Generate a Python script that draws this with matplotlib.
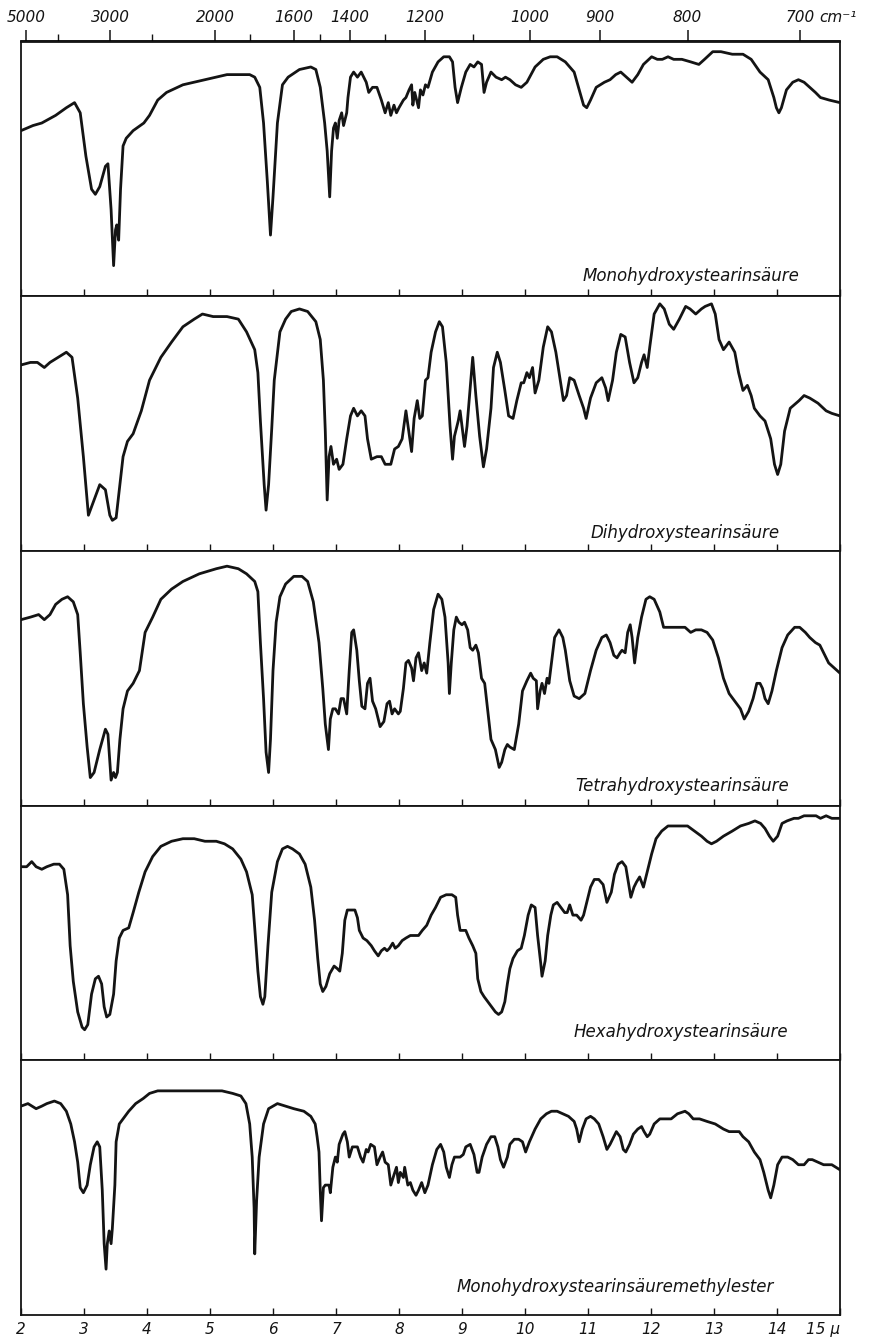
import matplotlib
matplotlib.use("Agg")
import matplotlib.pyplot as plt
import numpy as np

# spectra: (wavelength in micron, transmission in % of panel height)
mono = [(2.00, 65), (2.19, 67), (2.33, 68), (2.55, 71), (2.72, 74), (2.85, 76), (2.94, 72),
        (3.03, 55), (3.12, 42), (3.18, 40), (3.25, 43), (3.34, 51), (3.38, 52), (3.43, 34),
        (3.47, 12), (3.50, 26), (3.52, 28), (3.55, 22), (3.58, 42), (3.62, 59), (3.67, 62),
        (3.78, 65), (3.95, 68), (4.04, 71), (4.17, 77), (4.31, 80), (4.57, 83), (4.92, 85),
        (5.27, 87), (5.63, 87), (5.71, 86), (5.79, 82), (5.85, 68), (5.91, 45), (5.96, 24),
        (6.00, 39), (6.07, 68), (6.15, 83), (6.24, 86), (6.42, 89), (6.60, 90), (6.68, 89),
        (6.75, 82), (6.82, 68), (6.86, 57), (6.90, 39), (6.93, 57), (6.96, 66), (6.99, 68),
        (7.02, 62), (7.05, 69), (7.09, 72), (7.12, 67), (7.17, 72), (7.19, 78), (7.23, 86),
        (7.28, 88), (7.34, 86), (7.40, 88), (7.48, 84), (7.52, 80), (7.58, 82), (7.65, 82),
        (7.72, 77), (7.78, 72), (7.83, 76), (7.87, 71), (7.92, 75), (7.96, 72), (8.00, 74),
        (8.07, 77), (8.11, 78), (8.16, 81), (8.20, 83), (8.22, 75), (8.25, 80), (8.29, 76),
        (8.31, 74), (8.34, 81), (8.38, 79), (8.42, 83), (8.46, 82), (8.53, 88), (8.62, 92),
        (8.71, 94), (8.80, 94), (8.85, 92), (8.89, 82), (8.93, 76), (8.99, 82), (9.06, 88),
        (9.13, 91), (9.19, 90), (9.25, 92), (9.31, 91), (9.35, 80), (9.39, 84), (9.46, 88),
        (9.54, 86), (9.63, 85), (9.69, 86), (9.76, 85), (9.85, 83), (9.94, 82), (10.03, 84),
        (10.16, 90), (10.29, 93), (10.40, 94), (10.51, 94), (10.64, 92), (10.78, 88),
        (10.86, 81), (10.93, 75), (10.98, 74), (11.04, 77), (11.13, 82), (11.26, 84),
        (11.35, 85), (11.44, 87), (11.52, 88), (11.61, 86), (11.70, 84), (11.79, 87),
        (11.88, 91), (12.01, 94), (12.10, 93), (12.18, 93), (12.27, 94), (12.36, 93),
        (12.49, 93), (12.63, 92), (12.76, 91), (12.85, 93), (12.98, 96), (13.11, 96),
        (13.29, 95), (13.46, 95), (13.59, 93), (13.73, 88), (13.86, 85), (13.95, 78),
        (13.99, 74), (14.03, 72), (14.07, 74), (14.15, 81), (14.25, 84), (14.34, 85),
        (14.43, 84), (14.52, 82), (14.61, 80), (14.69, 78), (14.83, 77), (15.00, 76)]

dihydroxy = [(2.00, 73), (2.15, 74), (2.26, 74), (2.37, 72), (2.46, 74), (2.59, 76), (2.72, 78),
             (2.81, 76), (2.90, 60), (2.99, 37), (3.07, 14), (3.16, 20), (3.25, 26), (3.34, 24),
             (3.41, 14), (3.45, 12), (3.51, 13), (3.56, 24), (3.62, 37), (3.69, 43), (3.78, 46),
             (3.91, 55), (4.04, 67), (4.22, 76), (4.39, 82), (4.57, 88), (4.75, 91), (4.88, 93),
             (5.05, 92), (5.27, 92), (5.45, 91), (5.58, 86), (5.71, 79), (5.76, 70), (5.80, 51),
             (5.86, 26), (5.89, 16), (5.93, 26), (5.98, 48), (6.02, 67), (6.11, 86), (6.20, 91),
             (6.29, 94), (6.42, 95), (6.55, 94), (6.68, 90), (6.75, 83), (6.80, 67), (6.83, 47),
             (6.86, 20), (6.89, 37), (6.92, 41), (6.96, 34), (7.01, 36), (7.05, 32), (7.11, 34),
             (7.17, 44), (7.23, 53), (7.28, 56), (7.34, 53), (7.40, 55), (7.46, 53), (7.50, 44),
             (7.56, 36), (7.65, 37), (7.72, 37), (7.78, 34), (7.87, 34), (7.93, 40), (7.99, 41),
             (8.05, 44), (8.11, 55), (8.15, 48), (8.20, 39), (8.24, 52), (8.29, 59), (8.33, 52),
             (8.37, 53), (8.42, 67), (8.46, 68), (8.51, 78), (8.58, 86), (8.64, 90), (8.69, 88),
             (8.75, 74), (8.81, 49), (8.85, 36), (8.88, 45), (8.94, 51), (8.97, 55), (9.02, 45),
             (9.04, 41), (9.08, 49), (9.13, 64), (9.17, 76), (9.22, 61), (9.28, 45), (9.34, 33),
             (9.39, 40), (9.46, 56), (9.50, 72), (9.56, 78), (9.61, 74), (9.68, 63), (9.74, 53),
             (9.81, 52), (9.87, 59), (9.94, 66), (9.98, 66), (10.03, 70), (10.07, 68),
             (10.12, 72), (10.16, 62), (10.22, 67), (10.29, 80), (10.36, 88), (10.42, 86),
             (10.49, 78), (10.56, 67), (10.61, 59), (10.66, 61), (10.71, 68), (10.78, 67),
             (10.86, 61), (10.93, 56), (10.97, 52), (11.04, 60), (11.13, 66), (11.22, 68),
             (11.28, 64), (11.32, 59), (11.39, 67), (11.45, 78), (11.52, 85), (11.59, 84),
             (11.66, 74), (11.73, 66), (11.79, 68), (11.85, 74), (11.89, 77), (11.94, 72),
             (11.98, 80), (12.05, 93), (12.14, 97), (12.21, 95), (12.29, 89), (12.36, 87),
             (12.45, 91), (12.55, 96), (12.62, 95), (12.71, 93), (12.80, 95), (12.86, 96),
             (12.96, 97), (13.02, 93), (13.08, 83), (13.15, 79), (13.24, 82), (13.33, 78),
             (13.39, 70), (13.46, 63), (13.53, 65), (13.59, 61), (13.64, 56), (13.73, 53),
             (13.81, 51), (13.90, 44), (13.96, 34), (14.01, 30), (14.06, 34), (14.12, 47),
             (14.21, 56), (14.35, 59), (14.43, 61), (14.52, 60), (14.65, 58), (14.78, 55),
             (14.87, 54), (15.00, 53)]

tetrahydroxy = [(2.00, 73), (2.15, 74), (2.28, 75), (2.37, 73), (2.46, 75), (2.55, 79), (2.65, 81),
                (2.74, 82), (2.83, 80), (2.90, 75), (2.94, 60), (2.99, 40), (3.05, 23), (3.10, 11),
                (3.16, 13), (3.25, 22), (3.34, 30), (3.38, 28), (3.43, 10), (3.47, 13), (3.50, 11),
                (3.53, 13), (3.57, 26), (3.62, 38), (3.69, 45), (3.78, 48), (3.88, 53), (3.97, 68),
                (4.09, 74), (4.22, 81), (4.39, 85), (4.57, 88), (4.83, 91), (5.10, 93), (5.27, 94),
                (5.45, 93), (5.58, 91), (5.71, 88), (5.76, 84), (5.80, 64), (5.85, 42), (5.89, 21),
                (5.93, 13), (5.96, 26), (6.00, 53), (6.05, 72), (6.11, 82), (6.20, 87), (6.33, 90),
                (6.46, 90), (6.55, 88), (6.64, 80), (6.73, 64), (6.79, 46), (6.83, 32), (6.88, 22),
                (6.91, 34), (6.95, 38), (6.99, 38), (7.04, 36), (7.08, 42), (7.12, 42), (7.17, 36),
                (7.21, 53), (7.25, 68), (7.28, 69), (7.33, 61), (7.37, 49), (7.41, 39), (7.46, 38),
                (7.50, 48), (7.54, 50), (7.58, 41), (7.63, 38), (7.70, 31), (7.76, 33), (7.81, 40),
                (7.85, 41), (7.89, 36), (7.93, 38), (7.99, 36), (8.02, 37), (8.07, 46), (8.11, 56),
                (8.15, 57), (8.20, 54), (8.23, 49), (8.27, 58), (8.31, 60), (8.36, 53), (8.40, 56),
                (8.44, 52), (8.49, 64), (8.55, 77), (8.62, 83), (8.68, 81), (8.73, 74), (8.78, 56),
                (8.80, 44), (8.83, 56), (8.87, 69), (8.91, 74), (8.95, 72), (9.00, 71), (9.04, 72),
                (9.09, 69), (9.13, 62), (9.17, 61), (9.22, 63), (9.26, 60), (9.31, 50), (9.36, 48),
                (9.41, 37), (9.46, 26), (9.53, 22), (9.59, 15), (9.63, 17), (9.68, 22), (9.72, 24),
                (9.76, 23), (9.83, 22), (9.90, 32), (9.96, 45), (10.03, 49), (10.09, 52),
                (10.13, 50), (10.18, 49), (10.20, 38), (10.24, 45), (10.27, 48), (10.31, 44),
                (10.35, 50), (10.38, 48), (10.42, 56), (10.47, 66), (10.54, 69), (10.60, 66),
                (10.64, 61), (10.71, 49), (10.78, 43), (10.86, 42), (10.95, 44), (11.04, 53),
                (11.13, 61), (11.22, 66), (11.29, 67), (11.35, 64), (11.41, 59), (11.46, 58),
                (11.51, 60), (11.54, 61), (11.59, 60), (11.63, 68), (11.67, 71), (11.70, 66),
                (11.74, 56), (11.79, 66), (11.85, 74), (11.92, 81), (11.98, 82), (12.05, 81),
                (12.14, 76), (12.20, 70), (12.27, 70), (12.36, 70), (12.45, 70), (12.54, 70),
                (12.63, 68), (12.71, 69), (12.80, 69), (12.89, 68), (12.98, 65), (13.07, 58),
                (13.15, 50), (13.24, 44), (13.33, 41), (13.42, 38), (13.48, 34), (13.55, 37),
                (13.62, 42), (13.68, 48), (13.73, 48), (13.77, 46), (13.81, 42), (13.86, 40),
                (13.92, 45), (13.99, 53), (14.08, 62), (14.17, 67), (14.28, 70), (14.36, 70),
                (14.45, 68), (14.52, 66), (14.61, 64), (14.68, 63), (14.74, 60), (14.82, 56),
                (14.91, 54), (15.00, 52)]

hexahydroxy = [(2.00, 76), (2.09, 76), (2.17, 78), (2.24, 76), (2.33, 75), (2.41, 76), (2.52, 77),
               (2.61, 77), (2.68, 75), (2.74, 65), (2.78, 45), (2.83, 31), (2.90, 19), (2.97, 13),
               (3.01, 12), (3.06, 14), (3.12, 26), (3.18, 32), (3.23, 33), (3.28, 30), (3.32, 21),
               (3.36, 17), (3.41, 18), (3.47, 26), (3.51, 39), (3.56, 48), (3.62, 51), (3.71, 52),
               (3.78, 58), (3.87, 66), (3.97, 74), (4.09, 80), (4.22, 84), (4.39, 86), (4.57, 87),
               (4.75, 87), (4.92, 86), (5.10, 86), (5.23, 85), (5.36, 83), (5.49, 79), (5.58, 74),
               (5.67, 65), (5.71, 52), (5.76, 35), (5.80, 25), (5.84, 22), (5.87, 25), (5.92, 45),
               (5.98, 66), (6.07, 78), (6.15, 83), (6.23, 84), (6.31, 83), (6.42, 81), (6.51, 77),
               (6.60, 68), (6.66, 55), (6.71, 40), (6.75, 30), (6.79, 27), (6.84, 29), (6.90, 34),
               (6.97, 37), (7.02, 36), (7.06, 35), (7.10, 42), (7.14, 55), (7.18, 59), (7.23, 59),
               (7.30, 59), (7.34, 56), (7.37, 51), (7.43, 48), (7.49, 47), (7.56, 45), (7.61, 43),
               (7.67, 41), (7.72, 43), (7.77, 44), (7.81, 43), (7.85, 44), (7.90, 46), (7.94, 44),
               (7.99, 45), (8.05, 47), (8.11, 48), (8.18, 49), (8.25, 49), (8.31, 49), (8.37, 51),
               (8.44, 53), (8.51, 57), (8.58, 60), (8.66, 64), (8.75, 65), (8.84, 65), (8.90, 64),
               (8.93, 57), (8.97, 51), (9.02, 51), (9.06, 51), (9.11, 48), (9.17, 45), (9.22, 42),
               (9.25, 32), (9.30, 27), (9.35, 25), (9.41, 23), (9.47, 21), (9.53, 19), (9.58, 18),
               (9.63, 19), (9.68, 23), (9.72, 30), (9.76, 36), (9.81, 40), (9.88, 43), (9.94, 44),
               (9.99, 49), (10.05, 57), (10.10, 61), (10.16, 60), (10.20, 49), (10.25, 38),
               (10.27, 33), (10.32, 39), (10.36, 49), (10.41, 57), (10.45, 61), (10.51, 62),
               (10.57, 60), (10.63, 58), (10.67, 58), (10.71, 61), (10.76, 57), (10.82, 57),
               (10.89, 55), (10.93, 57), (10.98, 62), (11.04, 68), (11.10, 71), (11.17, 71),
               (11.24, 69), (11.30, 62), (11.37, 66), (11.42, 73), (11.48, 77), (11.54, 78),
               (11.60, 76), (11.64, 70), (11.68, 64), (11.73, 68), (11.77, 70), (11.82, 72),
               (11.88, 68), (11.94, 74), (12.01, 81), (12.08, 87), (12.17, 90), (12.27, 92),
               (12.36, 92), (12.48, 92), (12.58, 92), (12.69, 90), (12.80, 88), (12.89, 86),
               (12.96, 85), (13.04, 86), (13.15, 88), (13.29, 90), (13.42, 92), (13.55, 93),
               (13.65, 94), (13.74, 93), (13.81, 91), (13.88, 88), (13.94, 86), (14.01, 88),
               (14.08, 93), (14.16, 94), (14.27, 95), (14.34, 95), (14.43, 96), (14.54, 96),
               (14.62, 96), (14.69, 95), (14.78, 96), (14.87, 95), (15.00, 95)]

methylester = [(2.00, 82), (2.11, 83), (2.24, 81), (2.33, 82), (2.41, 83), (2.53, 84), (2.63, 83),
               (2.72, 80), (2.79, 75), (2.85, 68), (2.90, 60), (2.94, 50), (2.99, 48), (3.05, 51),
               (3.10, 59), (3.16, 66), (3.21, 68), (3.25, 66), (3.29, 49), (3.32, 28), (3.35, 18),
               (3.37, 28), (3.40, 33), (3.43, 28), (3.45, 34), (3.49, 51), (3.51, 68), (3.56, 75),
               (3.62, 77), (3.71, 80), (3.82, 83), (3.94, 85), (4.04, 87), (4.17, 88), (4.39, 88),
               (4.66, 88), (4.92, 88), (5.19, 88), (5.36, 87), (5.49, 86), (5.57, 83), (5.63, 75),
               (5.67, 62), (5.70, 42), (5.71, 24), (5.74, 45), (5.78, 62), (5.85, 75), (5.93, 81),
               (6.07, 83), (6.20, 82), (6.33, 81), (6.49, 80), (6.60, 78), (6.67, 75), (6.70, 70),
               (6.73, 64), (6.75, 49), (6.77, 37), (6.80, 50), (6.83, 51), (6.89, 51), (6.91, 48),
               (6.95, 58), (6.99, 62), (7.02, 60), (7.05, 67), (7.11, 71), (7.14, 72), (7.18, 68),
               (7.21, 62), (7.26, 66), (7.30, 66), (7.34, 66), (7.39, 62), (7.43, 60), (7.48, 65),
               (7.51, 64), (7.55, 67), (7.61, 66), (7.65, 59), (7.70, 62), (7.74, 64), (7.78, 60),
               (7.83, 59), (7.87, 51), (7.92, 55), (7.96, 58), (7.99, 52), (8.02, 56), (8.07, 54),
               (8.09, 58), (8.14, 51), (8.18, 52), (8.22, 49), (8.27, 47), (8.31, 49), (8.36, 52),
               (8.41, 48), (8.46, 51), (8.53, 59), (8.60, 65), (8.66, 67), (8.71, 64), (8.75, 58),
               (8.80, 54), (8.84, 59), (8.88, 62), (8.93, 62), (8.97, 62), (9.02, 63), (9.06, 66),
               (9.13, 67), (9.19, 63), (9.24, 56), (9.27, 56), (9.32, 62), (9.39, 67), (9.46, 70),
               (9.52, 70), (9.57, 66), (9.61, 61), (9.66, 58), (9.72, 62), (9.76, 67), (9.83, 69),
               (9.90, 69), (9.96, 68), (10.01, 64), (10.07, 68), (10.16, 73), (10.25, 77),
               (10.34, 79), (10.42, 80), (10.51, 80), (10.60, 79), (10.69, 78), (10.78, 76),
               (10.82, 73), (10.86, 68), (10.91, 73), (10.97, 77), (11.04, 78), (11.10, 77),
               (11.17, 75), (11.24, 70), (11.30, 65), (11.35, 67), (11.41, 70), (11.45, 72),
               (11.51, 70), (11.56, 65), (11.60, 64), (11.66, 67), (11.72, 71), (11.79, 73),
               (11.85, 74), (11.89, 72), (11.94, 70), (11.98, 71), (12.05, 75), (12.14, 77),
               (12.23, 77), (12.32, 77), (12.42, 79), (12.54, 80), (12.60, 79), (12.67, 77),
               (12.77, 77), (12.89, 76), (13.02, 75), (13.15, 73), (13.24, 72), (13.33, 72),
               (13.40, 72), (13.46, 70), (13.55, 68), (13.64, 64), (13.73, 61), (13.79, 56),
               (13.86, 49), (13.90, 46), (13.95, 51), (14.01, 59), (14.08, 62), (14.17, 62),
               (14.25, 61), (14.34, 59), (14.43, 59), (14.50, 61), (14.56, 61), (14.65, 60),
               (14.74, 59), (14.87, 59), (15.00, 57)]

spectra = [mono, dihydroxy, tetrahydroxy, hexahydroxy, methylester]
names = ["Monohydroxystearinsäure", "Dihydroxystearinsäure", "Tetrahydroxystearinsäure",
         "Hexahydroxystearinsäure", "Monohydroxystearinsäuremethylester"]

wl_ticks = list(range(2, 16))
wl_labels = [str(v) for v in wl_ticks[:-1]] + ["15 μ"]
wn_major = [5000, 3000, 2000, 1600, 1400, 1200, 1000, 900, 800, 700]
wn_minor = [4000, 2500, 1800, 1500, 1300, 1100]

# where each name sits (right end, height) in data units of its panel
name_pos = [(14.35, 8), (14.05, 7), (14.19, 7.5), (14.17, 11), (13.95, 11)]
shift = 0.08  # the printed cm-1 scale sits a little to the right of the micron scale

W, H = 869, 1341
fig = plt.figure(figsize=(W / 100, H / 100), dpi=100)
gs = fig.add_gridspec(5, 1, left=21 / W, right=840 / W, top=1 - 41.5 / H,
                      bottom=1 - 1315 / H, hspace=0)
ink = "#141414"
font = dict(family="DejaVu Sans", style="italic")

axes = []
for i, (data, name) in enumerate(zip(spectra, names)):
    ax = fig.add_subplot(gs[i])
    axes.append(ax)
    arr = np.array(data)
    ax.plot(arr[:, 0], arr[:, 1], color=ink, lw=2.0, solid_joinstyle="round")
    ax.set_xlim(2, 15)
    ax.set_ylim(0, 100)
    ax.set_yticks([])
    ax.set_xticks(wl_ticks)
    ax.tick_params(axis="x", direction="in", length=5, width=1, color=ink,
                   labelbottom=(i == 4), pad=5)
    for sp in ax.spines.values():
        sp.set_linewidth(1.3)
        sp.set_color(ink)
    nx, ny = name_pos[i]
    ax.text(nx, ny, name, ha="right", va="center", fontsize=12, color=ink, **font)

bottom = axes[-1]
bottom.set_xticklabels(wl_labels, fontsize=11, color=ink, **font)
bottom.get_xticklabels()[-1].set_horizontalalignment("right")


def to_wn(x):
    x = np.asarray(x, dtype=float)
    with np.errstate(divide="ignore", invalid="ignore"):
        return 1e4 / (x - shift)


def to_wl(n):
    n = np.asarray(n, dtype=float)
    with np.errstate(divide="ignore", invalid="ignore"):
        return 1e4 / n + shift


top = axes[0].secondary_xaxis("top", functions=(to_wn, to_wl))
top.set_xticks(wn_major)
top.set_xticks(wn_minor, minor=True)
top.set_xticklabels([str(v) for v in wn_major], fontsize=11, color=ink, **font)
top.tick_params(axis="x", which="major", direction="out", length=8, width=1.1, color=ink, pad=4)
top.tick_params(axis="x", which="minor", direction="out", length=5, width=1, color=ink)
top.spines["top"].set_linewidth(1.3)
axes[0].annotate("cm⁻¹", xy=(1e4 / 700 + shift, 1), xycoords=axes[0].get_xaxis_transform(),
                 xytext=(14, 17.5), textcoords="offset points", ha="left", va="center",
                 fontsize=11, color=ink, **font)

fig.savefig("out.png", dpi=100, facecolor="white")
